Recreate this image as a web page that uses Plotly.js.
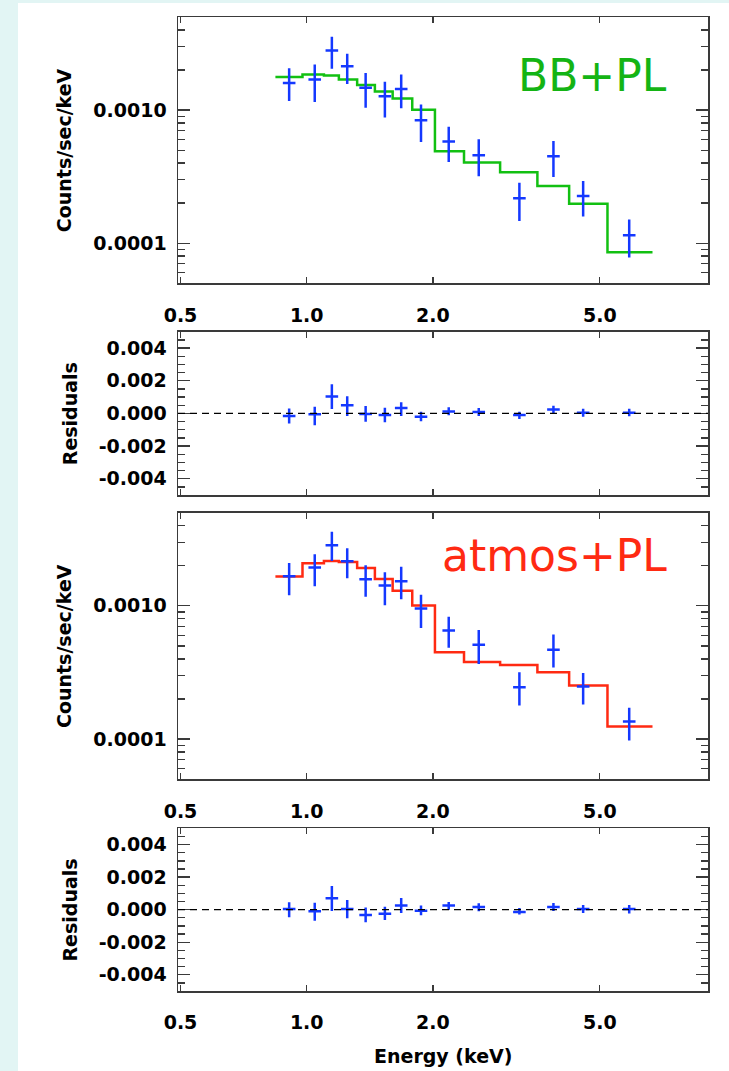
<!DOCTYPE html>
<html>
<head>
<meta charset="utf-8">
<script src="https://cdn.plot.ly/plotly-3.0.1.min.js"></script>
<style>
  html, body { margin: 0; padding: 0; background: #e2f5f4; width: 729px; height: 1071px; overflow: hidden; }
  #chart { position: absolute; left: 18px; top: 3px; width: 711px; height: 1068px; background: #ffffff; }
</style>
</head>
<body>
<div id="chart"></div>
<script>
// ---------- data ----------
const energy   = [0.908, 1.045, 1.148, 1.249, 1.382, 1.536, 1.680, 1.873, 2.181, 2.572, 3.215, 3.876, 4.563, 5.876];
const binEdges = [0.842, 0.977, 1.099, 1.193, 1.319, 1.454, 1.603, 1.785, 2.022, 2.372, 2.892, 3.549, 4.225, 5.215, 6.678];

// BB+PL fit
const bbRate    = [1.60e-3, 1.70e-3, 2.80e-3, 2.13e-3, 1.47e-3, 1.27e-3, 1.44e-3, 8.4e-4, 5.8e-4, 4.57e-4, 2.18e-4, 4.49e-4, 2.26e-4, 1.15e-4];
const bbRateHi  = [2.06e-3, 2.20e-3, 3.55e-3, 2.65e-3, 1.90e-3, 1.63e-3, 1.85e-3, 1.10e-3, 7.5e-4, 6.03e-4, 2.85e-4, 5.85e-4, 2.93e-4, 1.51e-4];
const bbRateLo  = [1.17e-3, 1.15e-3, 2.04e-3, 1.57e-3, 1.04e-3, 8.8e-4, 1.03e-3, 5.75e-4, 4.07e-4, 3.18e-4, 1.47e-4, 3.14e-4, 1.59e-4, 7.8e-5];
const bbModel   = [1.77e-3, 1.85e-3, 1.82e-3, 1.70e-3, 1.54e-3, 1.38e-3, 1.22e-3, 1.006e-3, 4.9e-4, 4.03e-4, 3.41e-4, 2.69e-4, 1.98e-4, 8.55e-5];
const bbResid   = [-0.00016, -0.00006, 0.00103, 0.00049, -0.00004, -0.0001, 0.00033, -0.0002, 0.00012, 0.00008, -0.0001, 0.00023, 0.00004, 0.00004];
const bbResidHi = [0.0003, 0.00041, 0.00178, 0.00105, 0.00045, 0.00035, 0.00068, 0.0001, 0.00037, 0.00033, 0.0001, 0.00047, 0.00029, 0.00029];
const bbResidLo = [-0.00062, -0.00072, 0.00027, -0.00016, -0.00051, -0.00055, -0.00016, -0.00049, -0.00012, -0.00016, -0.00035, 0.0, -0.0002, -0.00018];

// atmos+PL fit
const atRate    = [1.666e-3, 1.935e-3, 2.843e-3, 2.158e-3, 1.583e-3, 1.419e-3, 1.529e-3, 9.55e-4, 6.54e-4, 5.11e-4, 2.449e-4, 4.69e-4, 2.478e-4, 1.357e-4];
const atRateHi  = [2.097e-3, 2.435e-3, 3.597e-3, 2.700e-3, 2.014e-3, 1.786e-3, 1.968e-3, 1.209e-3, 8.27e-4, 6.58e-4, 3.17e-4, 6.10e-4, 3.135e-4, 1.716e-4];
const atRateLo  = [1.202e-3, 1.403e-3, 2.171e-3, 1.610e-3, 1.168e-3, 1.012e-3, 1.122e-3, 6.81e-4, 4.85e-4, 3.66e-4, 1.786e-4, 3.44e-4, 1.818e-4, 9.78e-5];
const atModel   = [1.657e-3, 2.085e-3, 2.171e-3, 2.133e-3, 1.924e-3, 1.592e-3, 1.295e-3, 1.006e-3, 4.48e-4, 3.79e-4, 3.60e-4, 3.17e-4, 2.521e-4, 1.245e-4];
const atResid   = [0.00004, -0.0001, 0.0007, 0.00004, -0.00033, -0.00025, 0.00025, -0.00006, 0.00025, 0.00016, -0.00014, 0.00016, 0.00004, 0.00004];
const atResidHi = [0.00045, 0.00043, 0.00146, 0.0006, 0.00014, 0.00018, 0.00072, 0.00025, 0.00047, 0.00039, 0.0001, 0.00041, 0.00029, 0.00029];
const atResidLo = [-0.00047, -0.00068, -0.00008, -0.00053, -0.00078, -0.00064, -0.0002, -0.00035, 0.0, -0.0001, -0.0003, -0.00008, -0.0002, -0.00023];

// tick labels
const xTickVals = [0.5, 1, 2, 5];
const xTickText = ['0.5', '1.0', '2.0', '5.0'];
const rateTickVals = [1e-4, 1e-3];
const rateTickText = ['0.0001', '0.0010'];
const rateMinorVals = [5e-5, 6e-5, 7e-5, 8e-5, 9e-5, 2e-4, 3e-4, 4e-4, 5e-4, 6e-4, 7e-4, 8e-4, 9e-4, 2e-3, 3e-3, 4e-3, 5e-3];
const resTickVals = [-0.004, -0.002, 0, 0.002, 0.004];
const resTickText = ['-0.004', '-0.002', '0.000', '0.002', '0.004'];
const resMinorVals = [-0.0045, -0.0035, -0.003, -0.0025, -0.0015, -0.001, -0.0005, 0.0005, 0.001, 0.0015, 0.0025, 0.003, 0.0035, 0.0045];

const labels = { bb: 'BB+PL', at: 'atmos+PL', rate: 'Counts/sec/keV', res: 'Residuals', energy: 'Energy (keV)' };

// ---------- styling ----------
const BLUE = '#1438ff';
const GREEN = '#12c012';
const RED = '#ff2a12';
const FRAME = '#3a3a3a';
const FONT = 'DejaVu Sans, sans-serif';

function diff(a, b) { return a.map((v, i) => Math.abs(v - b[i])); }

function dataTrace(y, hi, lo, xa, ya) {
  return {
    x: energy, y: y, xaxis: xa, yaxis: ya, type: 'scatter', mode: 'markers',
    marker: { symbol: 'line-ew', size: 9, color: BLUE, line: { color: BLUE, width: 2.5 } },
    error_y: { type: 'data', symmetric: false, array: diff(hi, y), arrayminus: diff(y, lo),
               color: BLUE, thickness: 2.5, width: 0 },
    showlegend: false, hoverinfo: 'skip'
  };
}
function modelTrace(model, color, xa, ya) {
  const yy = model.concat([model[model.length - 1]]);
  return {
    x: binEdges, y: yy, xaxis: xa, yaxis: ya, type: 'scatter', mode: 'lines',
    line: { shape: 'hv', color: color, width: 2.5 },
    showlegend: false, hoverinfo: 'skip'
  };
}

const traces = [
  modelTrace(bbModel, GREEN, 'x', 'y'),
  dataTrace(bbRate, bbRateHi, bbRateLo, 'x', 'y'),
  dataTrace(bbResid, bbResidHi, bbResidLo, 'x2', 'y2'),
  modelTrace(atModel, RED, 'x3', 'y3'),
  dataTrace(atRate, atRateHi, atRateLo, 'x3', 'y3'),
  dataTrace(atResid, atResidHi, atResidLo, 'x4', 'y4')
];

const tickFont = { family: FONT, size: 19, color: '#000', weight: 'bold' };
const xRange = [-0.307, 0.957];

function xAxis(anchor, showLabels) {
  return {
    anchor: anchor, type: 'log', range: xRange, domain: [0, 1],
    tickmode: 'array', tickvals: xTickVals, ticktext: xTickText,
    ticks: 'inside', ticklen: 6, tickwidth: 1.3, tickcolor: FRAME,
    showticklabels: showLabels, tickfont: tickFont, ticklabelstandoff: 14,
    showline: true, linecolor: FRAME, linewidth: 1.5, mirror: 'allticks',
    showgrid: false, zeroline: false, fixedrange: true
  };
}
function rateAxis(anchor, domain) {
  return {
    anchor: anchor, type: 'log', domain: domain,
    range: [Math.log10(5e-5), Math.log10(5e-3)],
    tickmode: 'array', tickvals: rateTickVals, ticktext: rateTickText,
    ticks: 'inside', ticklen: 12, tickwidth: 1.3, tickcolor: FRAME,
    minor: { tickmode: 'array', tickvals: rateMinorVals, ticks: 'inside', ticklen: 7, tickwidth: 1.3, tickcolor: FRAME, showgrid: false },
    tickfont: tickFont, ticklabelstandoff: 6,
    showline: true, linecolor: FRAME, linewidth: 1.5, mirror: 'allticks',
    showgrid: false, zeroline: false, fixedrange: true
  };
}
function resAxis(anchor, domain) {
  return {
    anchor: anchor, domain: domain, range: [-0.005, 0.005],
    tickmode: 'array', tickvals: resTickVals, ticktext: resTickText,
    ticks: 'inside', ticklen: 12, tickwidth: 1.3, tickcolor: FRAME,
    minor: { tickmode: 'array', tickvals: resMinorVals, ticks: 'inside', ticklen: 7, tickwidth: 1.3, tickcolor: FRAME, showgrid: false },
    tickfont: tickFont, ticklabelstandoff: 6,
    showline: true, linecolor: FRAME, linewidth: 1.5, mirror: 'allticks',
    showgrid: false, zeroline: false, fixedrange: true
  };
}

const titleFont = { family: FONT, size: 19, color: '#000', weight: 'bold' };

const layout = {
  width: 711, height: 1068,
  margin: { l: 160, r: 21, t: 14, b: 80 },
  paper_bgcolor: '#ffffff', plot_bgcolor: '#ffffff',
  showlegend: false,
  xaxis: xAxis('y', true),
  xaxis2: xAxis('y2', false),
  xaxis3: xAxis('y3', true),
  xaxis4: xAxis('y4', true),
  yaxis: rateAxis('x', [0.7266, 1.0]),
  yaxis2: resAxis('x2', [0.5092, 0.6769]),
  yaxis3: rateAxis('x3', [0.2174, 0.4911]),
  yaxis4: resAxis('x4', [0.0, 0.1670]),
  shapes: [
    { type: 'line', xref: 'x2 domain', x0: 0, x1: 1, yref: 'y2', y0: 0, y1: 0, line: { color: '#000', width: 1.3, dash: '7px,5px' } },
    { type: 'line', xref: 'x4 domain', x0: 0, x1: 1, yref: 'y4', y0: 0, y1: 0, line: { color: '#000', width: 1.3, dash: '7px,5px' } }
  ],
  annotations: [
    { text: labels.bb, xref: 'x domain', yref: 'y domain', x: 0.783, y: 0.779, xanchor: 'center', yanchor: 'middle', showarrow: false,
      font: { family: FONT, size: 44, color: '#14b414' } },
    { text: labels.at, xref: 'x3 domain', yref: 'y3 domain', x: 0.710, y: 0.841, xanchor: 'center', yanchor: 'middle', showarrow: false,
      font: { family: FONT, size: 44, color: RED } },
    { text: labels.rate, xref: 'paper', yref: 'y domain', x: -0.215, y: 0.5, textangle: -90, xanchor: 'center', yanchor: 'middle', showarrow: false, font: titleFont },
    { text: labels.res, xref: 'paper', yref: 'y2 domain', x: -0.204, y: 0.5, textangle: -90, xanchor: 'center', yanchor: 'middle', showarrow: false, font: titleFont },
    { text: labels.rate, xref: 'paper', yref: 'y3 domain', x: -0.215, y: 0.5, textangle: -90, xanchor: 'center', yanchor: 'middle', showarrow: false, font: titleFont },
    { text: labels.res, xref: 'paper', yref: 'y4 domain', x: -0.204, y: 0.5, textangle: -90, xanchor: 'center', yanchor: 'middle', showarrow: false, font: titleFont },
    { text: labels.energy, xref: 'paper', yref: 'paper', x: 0.5, y: -0.0667, xanchor: 'center', yanchor: 'middle', showarrow: false, font: titleFont }
  ]
};

Plotly.newPlot('chart', traces, layout, { displayModeBar: false, staticPlot: true });
</script>
</body>
</html>
